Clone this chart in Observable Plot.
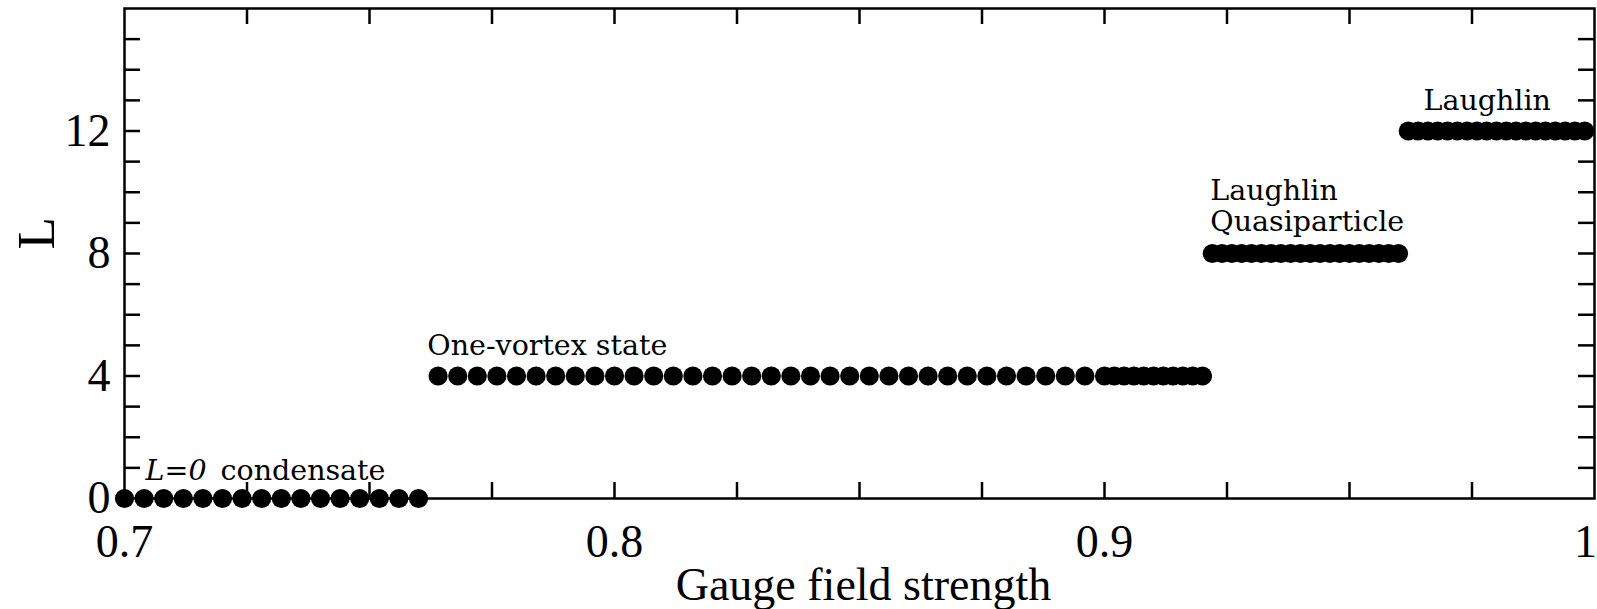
<!DOCTYPE html>
<html>
<head>
<meta charset="utf-8">
<script src="https://cdn.jsdelivr.net/npm/d3@7"></script>
<script src="https://cdn.jsdelivr.net/npm/@observablehq/plot@0.6"></script>
<style>
  html, body { margin: 0; padding: 0; background: #fff; }
</style>
</head>
<body>
<div id="chart"></div>
<script>
// Ground-state angular momentum L versus gauge field strength.
// Each plateau is a list of the field strengths sampled at that L.
const fieldL0 = [0.700, 0.704, 0.708, 0.712, 0.716, 0.720, 0.724, 0.728,
                 0.732, 0.736, 0.740, 0.744, 0.748, 0.752, 0.756, 0.760];
const fieldL4 = [0.764, 0.768, 0.772, 0.776, 0.780, 0.784, 0.788, 0.792,
                 0.796, 0.800, 0.804, 0.808, 0.812, 0.816, 0.820, 0.824,
                 0.828, 0.832, 0.836, 0.840, 0.844, 0.848, 0.852, 0.856,
                 0.860, 0.864, 0.868, 0.872, 0.876, 0.880, 0.884, 0.888,
                 0.892, 0.896,
                 0.900, 0.902, 0.904, 0.906, 0.908, 0.910, 0.912, 0.914,
                 0.916, 0.918, 0.920];
const fieldL8 = [0.922, 0.924, 0.926, 0.928, 0.930, 0.932, 0.934, 0.936,
                 0.938, 0.940, 0.942, 0.944, 0.946, 0.948, 0.950, 0.952,
                 0.954, 0.956, 0.958, 0.960];
const fieldL12 = [0.962, 0.964, 0.966, 0.968, 0.970, 0.972, 0.974, 0.976,
                  0.978, 0.980, 0.982, 0.984, 0.986, 0.988, 0.990, 0.992,
                  0.994, 0.996, 0.998];
const plateauL = [0, 4, 8, 12];

// Axis ticks and labels
const xTickLabels = [0.7, 0.8, 0.9];
const xLastLabel = [1];
const xTicks = [0.725, 0.75, 0.775, 0.8, 0.825, 0.85, 0.875, 0.9, 0.925, 0.95, 0.975];
const yTickLabels = [0, 4, 8, 12];
const yTicks = [1, 2, 3, 4, 5, 6, 7, 8, 9, 10, 11, 12, 13, 14, 15];

const xLabel = "Gauge field strength";
const yLabel = "L";

// Flatten the plateaus into one table for the dot mark
const points = [fieldL0, fieldL4, fieldL8, fieldL12].flatMap((xs, i) =>
  xs.map(x => ({field: x, L: plateauL[i]}))
);

const W = 1597, H = 609;
const mL = 124, mR = 3, mT = 8, mB = 111;
const innerW = W - mL - mR, innerH = H - mT - mB;
const tickLen = 16;
const annoFont = "'DejaVu Serif', serif";
const annoSize = 28.5;

const chart = Plot.plot({
  width: W,
  height: H,
  marginLeft: mL,
  marginRight: mR,
  marginTop: mT,
  marginBottom: mB,
  x: {domain: [0.7, 1.0]},
  y: {domain: [0, 16]},
  style: {fontFamily: "'Liberation Serif', serif", background: "#fff", color: "#000", overflow: "visible"},
  marks: [
    // inward ticks on all four sides
    Plot.tickX(xTicks, {x: d => d, insetTop: innerH - tickLen, stroke: "#000", strokeWidth: 2.5}),
    Plot.tickX(xTicks, {x: d => d, insetBottom: innerH - tickLen, stroke: "#000", strokeWidth: 2.5}),
    Plot.tickY(yTicks, {y: d => d, insetRight: innerW - tickLen, stroke: "#000", strokeWidth: 2.5}),
    Plot.tickY(yTicks, {y: d => d, insetLeft: innerW - tickLen, stroke: "#000", strokeWidth: 2.5}),
    Plot.frame({stroke: "#000", strokeWidth: 2.5}),
    // data
    Plot.dot(points, {x: "field", y: "L", r: 9.6, fill: "#000", stroke: "none"}),
    // tick labels
    Plot.axisX(xTickLabels, {tickSize: 0, tickPadding: 26, fontSize: 46, tickFormat: d => d.toFixed(1), label: null}),
    Plot.text(xLastLabel, {x: d => d, frameAnchor: "bottom", lineAnchor: "top", dy: 26, dx: -9, fontSize: 46, text: d => String(d)}),
    Plot.axisY(yTickLabels, {tickSize: 0, tickPadding: 14, fontSize: 46, label: null}),
    // axis titles
    Plot.text([xLabel], {frameAnchor: "bottom", lineAnchor: "bottom", dx: 4, dy: 101, fontSize: 46, text: d => d}),
    Plot.text([yLabel], {frameAnchor: "left", dx: -87, dy: -4, rotate: -90, fontSize: 53, text: d => d}),
    // annotations
    Plot.text(["L=0"], {x: 0.7043, y: 0.62, textAnchor: "start", lineAnchor: "bottom", fontFamily: annoFont, fontStyle: "italic", fontSize: annoSize, text: d => d}),
    Plot.text(["condensate"], {x: 0.7196, y: 0.62, textAnchor: "start", lineAnchor: "bottom", fontFamily: annoFont, fontSize: annoSize, text: d => d}),
    Plot.text(["One-vortex state"], {x: 0.7618, y: 4.67, textAnchor: "start", lineAnchor: "bottom", fontFamily: annoFont, fontSize: annoSize, text: d => d}),
    Plot.text(["Laughlin"], {x: 0.9216, y: 9.76, textAnchor: "start", lineAnchor: "bottom", fontFamily: annoFont, fontSize: annoSize, text: d => d}),
    Plot.text(["Quasiparticle"], {x: 0.9216, y: 8.74, textAnchor: "start", lineAnchor: "bottom", fontFamily: annoFont, fontSize: annoSize, text: d => d}),
    Plot.text(["Laughlin"], {x: 0.9651, y: 12.67, textAnchor: "start", lineAnchor: "bottom", fontFamily: annoFont, fontSize: annoSize, text: d => d})
  ]
});

document.getElementById("chart").appendChild(chart);
</script>
</body>
</html>
